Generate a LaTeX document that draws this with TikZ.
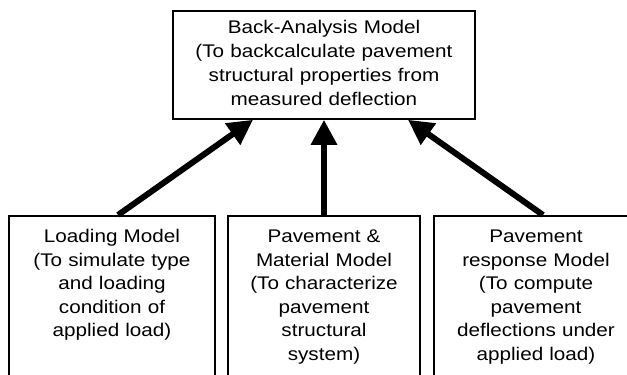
\documentclass[tikz,border=0pt]{standalone}
\usepackage{fontspec}
\newfontfamily\boxfont[FakeStretch=1.13]{Liberation Sans}
\usetikzlibrary{arrows.meta,calc}

\begin{document}
\begin{tikzpicture}[
    x=1pt, y=-1pt,
    model/.style={
        rectangle, draw=black, line width=1.8pt,
        align=center, inner sep=0pt,
        font=\boxfont\fontsize{18.3}{23.5}\selectfont
    },
    toparrow/.style={-{Triangle[length=25pt,width=25pt]}, line width=6pt}
]
\useasboundingbox (0,0) rectangle (627,375);
\clip (0,0) rectangle (627,375);

% Top: back-analysis
\node[model, anchor=north, text width=302pt, text height=23pt, text depth=85pt,
    font=\boxfont\fontsize{18.3}{24}\selectfont] (back) at (324,10) {
    Back-Analysis Model\\
    (To backcalculate pavement\\
    structural properties from\\
    measured deflection
};

% Bottom row of models
\node[model, anchor=north, text width=206pt, text height=27pt, text depth=200pt] (load) at (112,215) {
    Loading Model\\
    (To simulate type\\
    and loading\\
    condition of\\
    applied load)
};
\node[model, anchor=north, text width=192pt, text height=27pt, text depth=200pt] (mat) at (324,215) {
    Pavement \&\\
    Material Model\\
    (To characterize\\
    pavement\\
    structural\\
    system)
};
\node[model, anchor=north, text width=204pt, text height=27pt, text depth=200pt] (resp) at (536,215) {
    Pavement\\
    response Model\\
    (To compute\\
    pavement\\
    deflections under\\
    applied load)
};

% Arrows
\draw[toparrow] ($(load.north)+(6,0)$) -- ($(back.south)+(-71,0)$);
\draw[toparrow] (mat.north) -- (back.south);
\draw[toparrow] ($(resp.north)+(7,0)$) -- ($(back.south)+(84,0)$);
\end{tikzpicture}
\end{document}
